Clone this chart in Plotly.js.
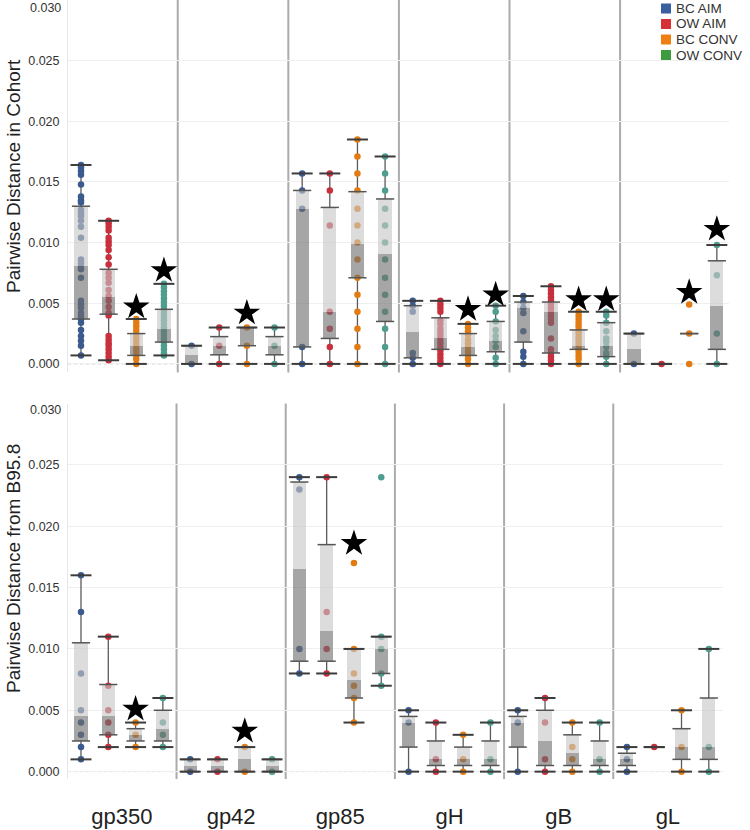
<!DOCTYPE html>
<html><head><meta charset="utf-8">
<script src="https://cdn.plot.ly/plotly-3.0.1.min.js"></script>
<style>html,body{margin:0;padding:0;background:#fff}#chart{width:750px;height:830px}</style>
</head><body><div id="chart"></div>
<script>
// ---------- categories ----------
const genes = ['gp350', 'gp42', 'gp85', 'gH', 'gB', 'gL'];
const cohorts = ['BC AIM', 'OW AIM', 'BC CONV', 'OW CONV'];
const yTickVals = [0, 0.005, 0.010, 0.015, 0.020, 0.025, 0.030];
const yTickText = ['0.000', '0.005', '0.010', '0.015', '0.020', '0.025', '0.030'];
const topTitle = 'Pairwise Distance in Cohort';
const bottomTitle = 'Pairwise Distance from B95.8';

// ---------- top panel: distance within cohort (rows = cohorts, cols = genes) ----------
const cohortMin = [
  [0.0007, 0, 0, 0, 0, 0],
  [0.0003, 0, 0, 0, 0, 0],
  [0, 0, 0, 0, 0, null],
  [0.0007, 0, 0, 0, 0, 0]
];
const cohortQ1 = [
  [0.0037, 0, 0.0014, 0.0005, 0.0018, 0],
  [0.0041, 0.00075, 0.0021, 0.0012, 0.0009, 0],
  [0.0007, 0.0015, 0.0071, 0.0007, 0.0012, 0.0025],
  [0.0018, 0.00075, 0.0035, 0.0010, 0.0006, 0.0012]
];
const cohortMedian = [
  [0.0081, 0.00075, 0.0128, 0.0026, 0.0046, 0.0012],
  [0.0055, 0.0015, 0.0043, 0.0021, 0.0043, 0],
  [0.0015, 0.0030, 0.0099, 0.0014, 0.00145, 0.0025],
  [0.0029, 0.0015, 0.0091, 0.0019, 0.0015, 0.0048]
];
const cohortQ3 = [
  [0.0130, 0.0015, 0.0143, 0.0048, 0.0051, 0.0025],
  [0.0078, 0.00225, 0.0129, 0.0038, 0.0051, 0],
  [0.0025, 0.0030, 0.0142, 0.0025, 0.0028, 0.0025],
  [0.0045, 0.00225, 0.0136, 0.0035, 0.0034, 0.0085]
];
const cohortMax = [
  [0.0164, 0.0015, 0.0157, 0.0052, 0.0056, 0.0025],
  [0.0118, 0.0030, 0.0157, 0.0052, 0.0064, 0],
  [0.0037, 0.0030, 0.0185, 0.0033, 0.0043, null],
  [0.0066, 0.0030, 0.0171, 0.0048, 0.0043, 0.0098]
];
const cohortPoints = [
  [ // BC AIM
    [0.0164,0.0162,0.0159,0.0156,0.0148,0.0138,0.0135,0.0133,0.0127,0.0124,0.0122,0.0118,0.0113,0.0104,0.0086,0.0083,0.0080,0.0078,0.0071,0.0052,0.0049,0.0046,0.0042,0.0039,0.0037,0.0034,0.0028,0.0023,0.0019,0.0015,0.0007],
    [0.0015, 0],
    [0.0157, 0.0143, 0.0128, 0.0014, 0],
    [0.0052, 0.0048, 0.0043, 0.0009, 0.0005, 0],
    [0.0056, 0.0051, 0.0046, 0.0042, 0.0027, 0.0010, 0.0006, 0],
    [0.0025, 0]
  ],
  [ // OW AIM
    [0.0118,0.0116,0.0113,0.0110,0.0104,0.0101,0.0098,0.0094,0.0088,0.0082,0.0075,0.0071,0.0067,0.0061,0.0056,0.0052,0.0047,0.0042,0.0040,0.0023,0.0020,0.0017,0.0015,0.0012,0.0009,0.0006,0.0003],
    [0.0030, 0.0015, 0],
    [0.0157, 0.0143, 0.0114, 0.0043, 0.0029, 0.0014, 0],
    [0.0052,0.0049,0.0046,0.0043,0.0036,0.0033,0.0029,0.0026,0.0023,0.0020,0.0017,0.0014,0.0011,0.0008,0.0005,0.0002,0],
    [0.0064,0.0061,0.0058,0.0055,0.0052,0.0049,0.0046,0.0043,0.0040,0.0037,0.0034,0.0021,0.0012,0.0009,0.0006,0.0003,0],
    [0]
  ],
  [ // BC CONV
    [0.0037,0.0034,0.0031,0.0028,0.0025,0.0022,0.0019,0.0016,0.0013,0.0010,0.0007,0.0004,0],
    [0.0030, 0.0015, 0],
    [0.0185,0.0171,0.0157,0.0143,0.0128,0.0114,0.0100,0.0086,0.0071,0.0057,0.0043,0.0029,0.0014,0],
    [0.0033,0.0030,0.0027,0.0024,0.0020,0.0017,0.0014,0.0010,0.0007,0.0004,0],
    [0.0043,0.0040,0.0037,0.0034,0.0031,0.0028,0.0025,0.0022,0.0019,0.0016,0.0013,0.0010,0.0007,0.0004,0],
    [0.0049, 0.0025, 0]
  ],
  [ // OW CONV
    [0.0066,0.0063,0.0060,0.0057,0.0054,0.0051,0.0048,0.0045,0.0042,0.0039,0.0036,0.0033,0.0030,0.0027,0.0024,0.0021,0.0018,0.0015,0.0012,0.0009,0.0007],
    [0.0030, 0.0015, 0],
    [0.0171,0.0157,0.0143,0.0128,0.0114,0.0100,0.0086,0.0071,0.0057,0.0043,0.0029,0.0014,0],
    [0.0048,0.0043,0.0035,0.0028,0.0023,0.0019,0.0014,0.0005,0],
    [0.0043,0.0040,0.0034,0.0027,0.0021,0.0018,0.0014,0.0009,0.0006,0],
    [0.0098, 0.0073, 0.0025, 0]
  ]
];
const cohortStarGene   = [0, 0, 1, 3, 3, 4, 4, 5, 5];
const cohortStarCohort = [2, 3, 2, 2, 3, 2, 3, 2, 3];
const cohortStarY      = [0.0047, 0.0077, 0.0042, 0.0045, 0.0057, 0.0053, 0.0053, 0.0059, 0.0111];

// ---------- bottom panel: distance from B95.8 ----------
const refMin = [
  [0.001, 0, 0.008, 0, 0, 0],
  [0.002, 0, 0.008, 0, 0, 0.002],
  [0.002, 0, 0.004, 0, 0, 0],
  [0.002, 0, 0.007, 0, 0, 0]
];
const refQ1 = [
  [0.0025, 0, 0.009, 0.002, 0.002, 0.0005],
  [0.003, 0, 0.009, 0.0005, 0.0005, 0.002],
  [0.0025, 0, 0.006, 0.0005, 0.0005, 0.001],
  [0.0025, 0, 0.008, 0.0005, 0.0005, 0.001]
];
const refMedian = [
  [0.0045, 0.0005, 0.0165, 0.004, 0.004, 0.001],
  [0.0045, 0.0005, 0.0115, 0.001, 0.0025, 0.002],
  [0.003, 0.001, 0.0075, 0.001, 0.0015, 0.002],
  [0.0035, 0.0005, 0.010, 0.001, 0.001, 0.002]
];
const refQ3 = [
  [0.0105, 0.001, 0.0236, 0.0045, 0.0045, 0.0015],
  [0.0071, 0.001, 0.0185, 0.0025, 0.005, 0.002],
  [0.0035, 0.002, 0.010, 0.002, 0.003, 0.0035],
  [0.005, 0.001, 0.011, 0.0025, 0.0025, 0.006]
];
const refMax = [
  [0.016, 0.001, 0.024, 0.005, 0.005, 0.002],
  [0.011, 0.001, 0.024, 0.004, 0.006, 0.002],
  [0.004, 0.002, 0.010, 0.003, 0.004, 0.005],
  [0.006, 0.001, 0.011, 0.004, 0.004, 0.010]
];
const refPoints = [
  [ // BC AIM
    [0.016, 0.013, 0.008, 0.005, 0.004, 0.003, 0.002, 0.001],
    [0.001, 0],
    [0.024, 0.023, 0.010, 0.008],
    [0.005, 0.004, 0],
    [0.005, 0.004, 0],
    [0.002, 0.001, 0]
  ],
  [ // OW AIM
    [0.011, 0.007, 0.005, 0.004, 0.003, 0.002],
    [0.001, 0],
    [0.024, 0.013, 0.010, 0.008],
    [0.004, 0.001, 0],
    [0.006, 0.004, 0.001, 0],
    [0.002]
  ],
  [ // BC CONV
    [0.004, 0.003, 0.002],
    [0.002, 0],
    [0.017, 0.010, 0.008, 0.007, 0.006, 0.004],
    [0.003, 0.001, 0],
    [0.004, 0.002, 0.001, 0],
    [0.005, 0.002, 0]
  ],
  [ // OW CONV
    [0.006, 0.004, 0.003, 0.002],
    [0.001, 0],
    [0.024, 0.011, 0.010, 0.008, 0.007],
    [0.004, 0.001, 0],
    [0.004, 0.001, 0],
    [0.010, 0.002, 0]
  ]
];
const refStarGene   = [0, 1, 2];
const refStarCohort = [2, 2, 2];
const refStarY      = [0.0051, 0.0033, 0.0186];

// ---------- styles ----------
const pointColors  = ['#3b5a8e', '#c8303d', '#e27b12', '#4e9d8e'];
const legendColors = ['#3a5fa0', '#d62f35', '#f07f13', '#3d9c3d'];
const FONT = '"Liberation Sans", Arial, Helvetica, sans-serif';
const L = 68, R = 21, T = 0, B = 51, W = 750, H = 830;
const PW = W - L - R, PH = H - T - B;
const px2x = p => (p - L) / PW;
const px2y = p => 1 - (p - T) / PH;

function xPos(g, c) { return g * cohorts.length + c; }

function buildPanel(xa, ya, yOver, mins, q1s, meds, q3s, maxs, pts, sG, sC, sY) {
  const base = [], over = [];
  const wx = [], wy = [];
  cohorts.forEach((nm, c) => genes.forEach((gn, g) => {
    const x = xPos(g, c);
    if (maxs[c][g] != null && q3s[c][g] != null && maxs[c][g] > q3s[c][g]) { wx.push(x, x, null); wy.push(q3s[c][g], maxs[c][g], null); }
    if (mins[c][g] != null && q1s[c][g] != null && mins[c][g] < q1s[c][g]) { wx.push(x, x, null); wy.push(q1s[c][g], mins[c][g], null); }
  }));
  base.push({type: 'scatter', mode: 'lines', x: wx, y: wy, xaxis: xa, yaxis: ya,
    line: {color: '#5a5a5a', width: 1.3}, hoverinfo: 'skip', showlegend: false});
  cohorts.forEach((nm, c) => {
    const px = [], py = [];
    genes.forEach((gn, g) => pts[c][g].forEach(v => { px.push(xPos(g, c)); py.push(v); }));
    base.push({type: 'scatter', mode: 'markers', name: nm, x: px, y: py, xaxis: xa, yaxis: ya,
      marker: {size: 6.5, color: pointColors[c]}, cliponaxis: false, showlegend: false});
  });
  const bx = [], lowB = [], lowH = [], upB = [], upH = [];
  const ex = [], ey = [], cx = [], cy = [];
  cohorts.forEach((nm, c) => genes.forEach((gn, g) => {
    const x = xPos(g, c);
    if (q1s[c][g] != null) {
      bx.push(x); lowB.push(q1s[c][g]); lowH.push(meds[c][g] - q1s[c][g]);
      upB.push(meds[c][g]); upH.push(q3s[c][g] - meds[c][g]);
      ex.push(x, x); ey.push(q1s[c][g], q3s[c][g]);
    }
    if (mins[c][g] != null) { cx.push(x); cy.push(mins[c][g]); }
    if (maxs[c][g] != null) { cx.push(x); cy.push(maxs[c][g]); }
  }));
  over.push({type: 'bar', x: bx, base: lowB, y: lowH, width: 0.48, xaxis: xa, yaxis: yOver,
    marker: {color: 'rgba(112,112,112,0.62)', line: {width: 0}}, hoverinfo: 'skip', showlegend: false});
  over.push({type: 'bar', x: bx, base: upB, y: upH, width: 0.48, xaxis: xa, yaxis: yOver,
    marker: {color: 'rgba(199,199,199,0.62)', line: {width: 0}}, hoverinfo: 'skip', showlegend: false});
  over.push({type: 'scatter', mode: 'markers', x: ex, y: ey, xaxis: xa, yaxis: yOver, cliponaxis: false,
    marker: {symbol: 'line-ew-open', size: 13, color: '#555', line: {width: 1.5, color: '#555'}}, hoverinfo: 'skip', showlegend: false});
  over.push({type: 'scatter', mode: 'markers', x: cx, y: cy, xaxis: xa, yaxis: yOver, cliponaxis: false,
    marker: {symbol: 'line-ew-open', size: 15, color: '#3c3c3c', line: {width: 2, color: '#3c3c3c'}}, hoverinfo: 'skip', showlegend: false});
  over.push({type: 'scatter', mode: 'markers', x: sG.map((g, i) => xPos(g, sC[i])), y: sY, xaxis: xa, yaxis: yOver, cliponaxis: false,
    marker: {symbol: 'star', size: 20, color: '#000', line: {width: 0}}, hoverinfo: 'skip', showlegend: false});
  return base.concat(over);
}

const data = buildPanel('x', 'y', 'y3', cohortMin, cohortQ1, cohortMedian, cohortQ3, cohortMax, cohortPoints,
                        cohortStarGene, cohortStarCohort, cohortStarY)
  .concat(buildPanel('x2', 'y2', 'y4', refMin, refQ1, refMedian, refQ3, refMax, refPoints,
                     refStarGene, refStarCohort, refStarY));

const topRange = [-0.0007, 0.030], botRange = [-0.0006, 0.030];
const topDomain = [1 - 372.4 / PH, 1], botDomain = [0, 375.5 / PH];
const yCommon = {
  tickvals: yTickVals, ticktext: yTickText.map((t, i) => i === yTickText.length - 1 ? '' : t),
  gridcolor: '#efefef', gridwidth: 1, zeroline: false, showline: true, linecolor: '#e6e6e6', linewidth: 1,
  ticks: '', ticklabelstandoff: 5, tickfont: {size: 12.5, color: '#333', family: FONT}, fixedrange: true
};
const groupCenters = genes.map((gn, g) => (xPos(g, 0) + xPos(g, cohorts.length - 1)) / 2);
const separators = genes.slice(1).map((gn, i) => xPos(i + 1, 0) - 0.5);

const shapes = [];
[['x', 'y', topDomain], ['x2', 'y2', botDomain]].forEach(([xa, ya, dom]) => {
  separators.forEach(s => shapes.push({type: 'line', xref: xa, yref: 'paper', x0: s, x1: s, y0: dom[0], y1: dom[1],
    line: {color: '#ababab', width: 2}, layer: 'below'}));
  shapes.push({type: 'line', xref: 'paper', yref: ya, x0: 0, x1: xa === 'x' ? 1 : 655 / PW, y0: 0, y1: 0,
    line: {color: '#c4c4c4', width: 1, dash: 'dot'}, layer: 'below'});
});
const annotations = [
  {text: topTitle, xref: 'paper', yref: 'paper', x: px2x(13), y: px2y(176), textangle: -90, showarrow: false,
   xanchor: 'center', yanchor: 'middle', font: {size: 19, color: '#222', family: FONT}},
  {text: bottomTitle, xref: 'paper', yref: 'paper', x: px2x(13), y: px2y(569), textangle: -90, showarrow: false,
   xanchor: 'center', yanchor: 'middle', font: {size: 19, color: '#222', family: FONT}},
  {text: yTickText[yTickText.length - 1], xref: 'paper', yref: 'paper', x: px2x(63), y: px2y(8), showarrow: false,
   xanchor: 'right', yanchor: 'middle', font: {size: 12.5, color: '#333', family: FONT}},
  {text: yTickText[yTickText.length - 1], xref: 'paper', yref: 'paper', x: px2x(63), y: px2y(410), showarrow: false,
   xanchor: 'right', yanchor: 'middle', font: {size: 12.5, color: '#333', family: FONT}}
];
const legendY = [8.5, 24, 39.5, 55];
cohorts.forEach((nm, c) => {
  shapes.push({type: 'rect', xref: 'paper', yref: 'paper', x0: px2x(661), x1: px2x(671),
    y0: px2y(legendY[c] + 5), y1: px2y(legendY[c] - 5), fillcolor: legendColors[c], line: {width: 0}, layer: 'above'});
  annotations.push({text: nm, xref: 'paper', yref: 'paper', x: px2x(675), y: px2y(legendY[c]), showarrow: false,
    xanchor: 'left', yanchor: 'middle', borderpad: 0, font: {size: 13.5, color: '#333', family: FONT}});
});

const layout = {
  width: W, height: H, margin: {l: L, r: R, t: T, b: B, pad: 0},
  paper_bgcolor: '#ffffff', plot_bgcolor: 'rgba(0,0,0,0)',
  font: {family: FONT, color: '#333'}, showlegend: false, barmode: 'overlay', bargap: 0,
  xaxis: {domain: [0, 1], range: [-0.47, 23.44], anchor: 'y', showticklabels: false, showgrid: false,
          zeroline: false, ticks: '', fixedrange: true},
  yaxis: Object.assign({domain: topDomain, range: topRange, anchor: 'x'}, yCommon),
  yaxis3: {overlaying: 'y', anchor: 'x', range: topRange, visible: false, fixedrange: true},
  xaxis2: {domain: [0, 655 / PW], range: [-0.476, 23.52], anchor: 'y2', tickvals: groupCenters, ticktext: genes,
           tickfont: {size: 22, color: '#222', family: FONT}, ticks: '', ticklabelstandoff: 22,
           showgrid: false, zeroline: false, fixedrange: true},
  yaxis2: Object.assign({domain: botDomain, range: botRange, anchor: 'x2'}, yCommon),
  yaxis4: {overlaying: 'y2', anchor: 'x2', range: botRange, visible: false, fixedrange: true},
  shapes: shapes, annotations: annotations
};
Plotly.newPlot('chart', data, layout, {displayModeBar: false, staticPlot: true});
</script>
</body></html>
